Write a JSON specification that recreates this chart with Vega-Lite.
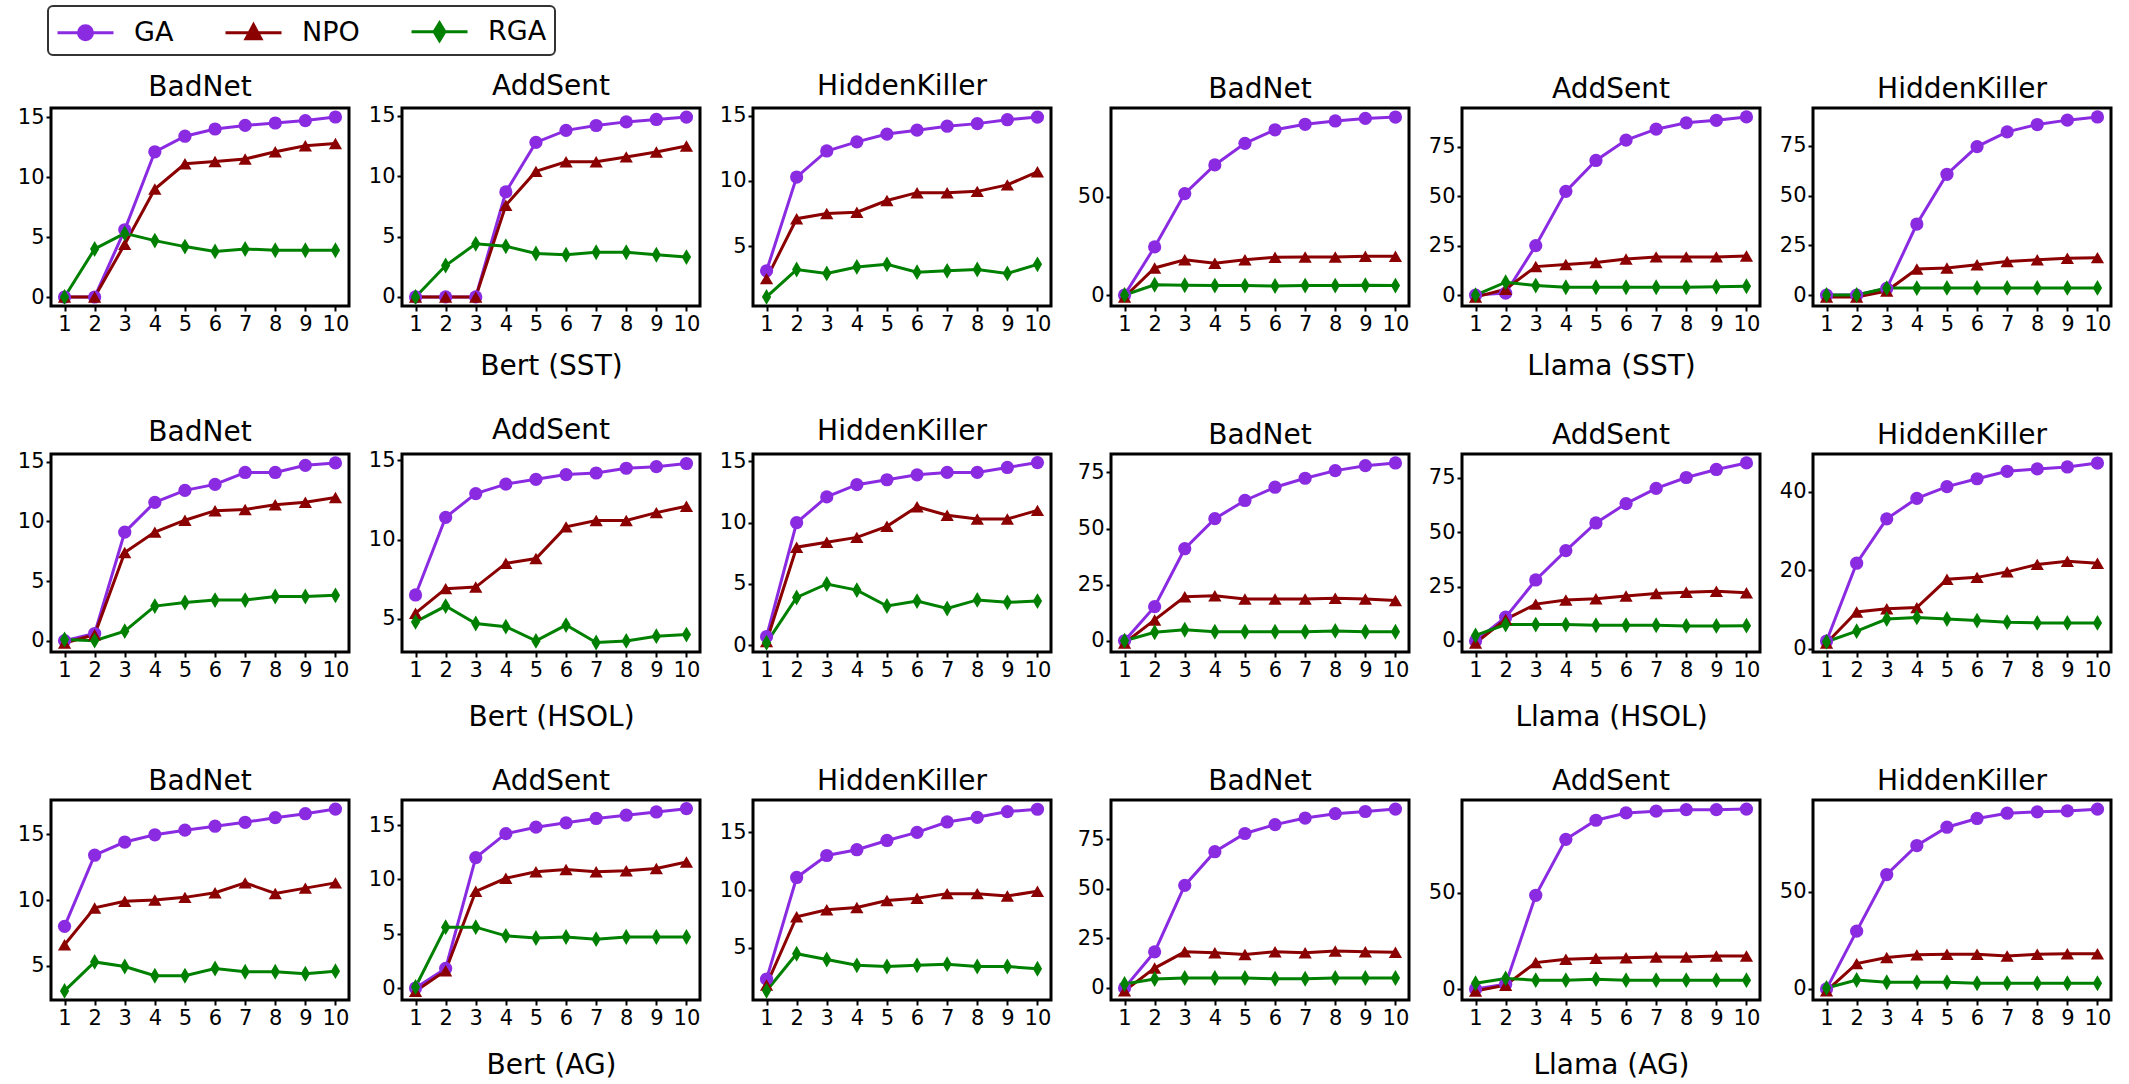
{
  "$schema": "https://vega.github.io/schema/vega-lite/v6.json",
  "padding": {"left": 15, "top": 5, "right": 5, "bottom": 5},
  "background": "white",
  "config": {
    "font": "DejaVu Sans",
    "view": {"stroke": "black", "strokeWidth": 3},
    "axis": {"domain": false, "grid": false, "tickColor": "black", "tickSize": 5, "tickWidth": 2, "labelFontSize": 21, "labelColor": "black", "labelPadding": 2, "labelOverlap": false, "titleFontSize": 28, "titleFontWeight": "normal", "titleColor": "black"},
    "axisY": {"minExtent": 34, "maxExtent": 34},
    "axisX": {"labelAngle": 0},
    "title": {"fontSize": 28, "fontWeight": "normal", "offset": 4, "color": "black"},
    "line": {"strokeWidth": 3},
    "point": {"filled": true, "size": 175, "opacity": 1},
    "range": {"category": ["#8a2be2", "#8b0000", "#008000"], "symbol": ["circle", "triangle-up", "M0,-1.2L0.7,0L0,1.2L-0.7,0Z"]},
    "legend": {"labelFontSize": 27, "labelColor": "black", "symbolSize": 1024, "labelOffset": 43, "columnPadding": 45, "padding": 8, "strokeColor": "#333333", "strokeWidth": 2, "cornerRadius": 5, "fillColor": "white"}
  },
  "datasets": {
    "Bert_SST_BadNet": [
      {"epoch":1,"method":"GA","value":0},{"epoch":2,"method":"GA","value":0},{"epoch":3,"method":"GA","value":5.6},{"epoch":4,"method":"GA","value":12.1},{"epoch":5,"method":"GA","value":13.4},{"epoch":6,"method":"GA","value":14.0},{"epoch":7,"method":"GA","value":14.3},{"epoch":8,"method":"GA","value":14.5},{"epoch":9,"method":"GA","value":14.7},{"epoch":10,"method":"GA","value":15.0},
      {"epoch":1,"method":"NPO","value":0},{"epoch":2,"method":"NPO","value":0},{"epoch":3,"method":"NPO","value":4.4},{"epoch":4,"method":"NPO","value":9.0},{"epoch":5,"method":"NPO","value":11.1},{"epoch":6,"method":"NPO","value":11.3},{"epoch":7,"method":"NPO","value":11.5},{"epoch":8,"method":"NPO","value":12.1},{"epoch":9,"method":"NPO","value":12.6},{"epoch":10,"method":"NPO","value":12.8},
      {"epoch":1,"method":"RGA","value":0},{"epoch":2,"method":"RGA","value":4.0},{"epoch":3,"method":"RGA","value":5.3},{"epoch":4,"method":"RGA","value":4.7},{"epoch":5,"method":"RGA","value":4.2},{"epoch":6,"method":"RGA","value":3.8},{"epoch":7,"method":"RGA","value":4.0},{"epoch":8,"method":"RGA","value":3.9},{"epoch":9,"method":"RGA","value":3.9},{"epoch":10,"method":"RGA","value":3.9}
    ],
    "Bert_SST_AddSent": [
      {"epoch":1,"method":"GA","value":0},{"epoch":2,"method":"GA","value":0},{"epoch":3,"method":"GA","value":0},{"epoch":4,"method":"GA","value":8.7},{"epoch":5,"method":"GA","value":12.8},{"epoch":6,"method":"GA","value":13.8},{"epoch":7,"method":"GA","value":14.2},{"epoch":8,"method":"GA","value":14.5},{"epoch":9,"method":"GA","value":14.7},{"epoch":10,"method":"GA","value":14.9},
      {"epoch":1,"method":"NPO","value":0},{"epoch":2,"method":"NPO","value":0},{"epoch":3,"method":"NPO","value":0},{"epoch":4,"method":"NPO","value":7.6},{"epoch":5,"method":"NPO","value":10.4},{"epoch":6,"method":"NPO","value":11.2},{"epoch":7,"method":"NPO","value":11.2},{"epoch":8,"method":"NPO","value":11.6},{"epoch":9,"method":"NPO","value":12.0},{"epoch":10,"method":"NPO","value":12.5},
      {"epoch":1,"method":"RGA","value":0},{"epoch":2,"method":"RGA","value":2.6},{"epoch":3,"method":"RGA","value":4.4},{"epoch":4,"method":"RGA","value":4.2},{"epoch":5,"method":"RGA","value":3.6},{"epoch":6,"method":"RGA","value":3.5},{"epoch":7,"method":"RGA","value":3.7},{"epoch":8,"method":"RGA","value":3.7},{"epoch":9,"method":"RGA","value":3.5},{"epoch":10,"method":"RGA","value":3.3}
    ],
    "Bert_SST_HiddenKiller": [
      {"epoch":1,"method":"GA","value":3.1},{"epoch":2,"method":"GA","value":10.3},{"epoch":3,"method":"GA","value":12.3},{"epoch":4,"method":"GA","value":13.0},{"epoch":5,"method":"GA","value":13.6},{"epoch":6,"method":"GA","value":13.9},{"epoch":7,"method":"GA","value":14.2},{"epoch":8,"method":"GA","value":14.4},{"epoch":9,"method":"GA","value":14.7},{"epoch":10,"method":"GA","value":14.9},
      {"epoch":1,"method":"NPO","value":2.5},{"epoch":2,"method":"NPO","value":7.1},{"epoch":3,"method":"NPO","value":7.5},{"epoch":4,"method":"NPO","value":7.6},{"epoch":5,"method":"NPO","value":8.5},{"epoch":6,"method":"NPO","value":9.1},{"epoch":7,"method":"NPO","value":9.1},{"epoch":8,"method":"NPO","value":9.2},{"epoch":9,"method":"NPO","value":9.7},{"epoch":10,"method":"NPO","value":10.7},
      {"epoch":1,"method":"RGA","value":1.1},{"epoch":2,"method":"RGA","value":3.2},{"epoch":3,"method":"RGA","value":2.9},{"epoch":4,"method":"RGA","value":3.4},{"epoch":5,"method":"RGA","value":3.6},{"epoch":6,"method":"RGA","value":3.0},{"epoch":7,"method":"RGA","value":3.1},{"epoch":8,"method":"RGA","value":3.2},{"epoch":9,"method":"RGA","value":2.9},{"epoch":10,"method":"RGA","value":3.6}
    ],
    "Llama_SST_BadNet": [
      {"epoch":1,"method":"GA","value":0},{"epoch":2,"method":"GA","value":24.5},{"epoch":3,"method":"GA","value":51.7},{"epoch":4,"method":"GA","value":66.3},{"epoch":5,"method":"GA","value":77.3},{"epoch":6,"method":"GA","value":84.2},{"epoch":7,"method":"GA","value":87.0},{"epoch":8,"method":"GA","value":88.7},{"epoch":9,"method":"GA","value":90.0},{"epoch":10,"method":"GA","value":90.7},
      {"epoch":1,"method":"NPO","value":-1},{"epoch":2,"method":"NPO","value":13.8},{"epoch":3,"method":"NPO","value":18.0},{"epoch":4,"method":"NPO","value":16.2},{"epoch":5,"method":"NPO","value":18.0},{"epoch":6,"method":"NPO","value":19.2},{"epoch":7,"method":"NPO","value":19.4},{"epoch":8,"method":"NPO","value":19.4},{"epoch":9,"method":"NPO","value":19.7},{"epoch":10,"method":"NPO","value":19.7},
      {"epoch":1,"method":"RGA","value":0},{"epoch":2,"method":"RGA","value":5.2},{"epoch":3,"method":"RGA","value":5.0},{"epoch":4,"method":"RGA","value":4.8},{"epoch":5,"method":"RGA","value":4.8},{"epoch":6,"method":"RGA","value":4.6},{"epoch":7,"method":"RGA","value":4.8},{"epoch":8,"method":"RGA","value":4.8},{"epoch":9,"method":"RGA","value":5.0},{"epoch":10,"method":"RGA","value":4.8}
    ],
    "Llama_SST_AddSent": [
      {"epoch":1,"method":"GA","value":0},{"epoch":2,"method":"GA","value":1},{"epoch":3,"method":"GA","value":25},{"epoch":4,"method":"GA","value":52.4},{"epoch":5,"method":"GA","value":68},{"epoch":6,"method":"GA","value":78.3},{"epoch":7,"method":"GA","value":83.8},{"epoch":8,"method":"GA","value":87},{"epoch":9,"method":"GA","value":88.3},{"epoch":10,"method":"GA","value":90},
      {"epoch":1,"method":"NPO","value":-1},{"epoch":2,"method":"NPO","value":3},{"epoch":3,"method":"NPO","value":14.4},{"epoch":4,"method":"NPO","value":15.5},{"epoch":5,"method":"NPO","value":16.5},{"epoch":6,"method":"NPO","value":18.2},{"epoch":7,"method":"NPO","value":19.3},{"epoch":8,"method":"NPO","value":19.3},{"epoch":9,"method":"NPO","value":19.3},{"epoch":10,"method":"NPO","value":19.8},
      {"epoch":1,"method":"RGA","value":0},{"epoch":2,"method":"RGA","value":6.5},{"epoch":3,"method":"RGA","value":4.8},{"epoch":4,"method":"RGA","value":4.0},{"epoch":5,"method":"RGA","value":4.0},{"epoch":6,"method":"RGA","value":4.0},{"epoch":7,"method":"RGA","value":4.0},{"epoch":8,"method":"RGA","value":4.0},{"epoch":9,"method":"RGA","value":4.2},{"epoch":10,"method":"RGA","value":4.5}
    ],
    "Llama_SST_HiddenKiller": [
      {"epoch":1,"method":"GA","value":0},{"epoch":2,"method":"GA","value":0},{"epoch":3,"method":"GA","value":3.3},{"epoch":4,"method":"GA","value":35.7},{"epoch":5,"method":"GA","value":60.7},{"epoch":6,"method":"GA","value":74.6},{"epoch":7,"method":"GA","value":82.0},{"epoch":8,"method":"GA","value":85.7},{"epoch":9,"method":"GA","value":87.9},{"epoch":10,"method":"GA","value":89.5},
      {"epoch":1,"method":"NPO","value":-1},{"epoch":2,"method":"NPO","value":-1},{"epoch":3,"method":"NPO","value":2},{"epoch":4,"method":"NPO","value":13.1},{"epoch":5,"method":"NPO","value":13.6},{"epoch":6,"method":"NPO","value":15.2},{"epoch":7,"method":"NPO","value":16.9},{"epoch":8,"method":"NPO","value":17.7},{"epoch":9,"method":"NPO","value":18.5},{"epoch":10,"method":"NPO","value":18.8},
      {"epoch":1,"method":"RGA","value":0},{"epoch":2,"method":"RGA","value":0},{"epoch":3,"method":"RGA","value":3.5},{"epoch":4,"method":"RGA","value":3.5},{"epoch":5,"method":"RGA","value":3.6},{"epoch":6,"method":"RGA","value":3.6},{"epoch":7,"method":"RGA","value":3.6},{"epoch":8,"method":"RGA","value":3.6},{"epoch":9,"method":"RGA","value":3.6},{"epoch":10,"method":"RGA","value":3.6}
    ],
    "Bert_HSOL_BadNet": [
      {"epoch":1,"method":"GA","value":0},{"epoch":2,"method":"GA","value":0.6},{"epoch":3,"method":"GA","value":9.1},{"epoch":4,"method":"GA","value":11.6},{"epoch":5,"method":"GA","value":12.6},{"epoch":6,"method":"GA","value":13.1},{"epoch":7,"method":"GA","value":14.1},{"epoch":8,"method":"GA","value":14.1},{"epoch":9,"method":"GA","value":14.7},{"epoch":10,"method":"GA","value":14.9},
      {"epoch":1,"method":"NPO","value":-0.2},{"epoch":2,"method":"NPO","value":0.5},{"epoch":3,"method":"NPO","value":7.4},{"epoch":4,"method":"NPO","value":9.1},{"epoch":5,"method":"NPO","value":10.1},{"epoch":6,"method":"NPO","value":10.9},{"epoch":7,"method":"NPO","value":11.0},{"epoch":8,"method":"NPO","value":11.4},{"epoch":9,"method":"NPO","value":11.6},{"epoch":10,"method":"NPO","value":12.0},
      {"epoch":1,"method":"RGA","value":0.1},{"epoch":2,"method":"RGA","value":0},{"epoch":3,"method":"RGA","value":0.8},{"epoch":4,"method":"RGA","value":2.9},{"epoch":5,"method":"RGA","value":3.2},{"epoch":6,"method":"RGA","value":3.4},{"epoch":7,"method":"RGA","value":3.4},{"epoch":8,"method":"RGA","value":3.7},{"epoch":9,"method":"RGA","value":3.7},{"epoch":10,"method":"RGA","value":3.8}
    ],
    "Bert_HSOL_AddSent": [
      {"epoch":1,"method":"GA","value":6.5},{"epoch":2,"method":"GA","value":11.4},{"epoch":3,"method":"GA","value":12.9},{"epoch":4,"method":"GA","value":13.5},{"epoch":5,"method":"GA","value":13.8},{"epoch":6,"method":"GA","value":14.1},{"epoch":7,"method":"GA","value":14.2},{"epoch":8,"method":"GA","value":14.5},{"epoch":9,"method":"GA","value":14.6},{"epoch":10,"method":"GA","value":14.8},
      {"epoch":1,"method":"NPO","value":5.35},{"epoch":2,"method":"NPO","value":6.9},{"epoch":3,"method":"NPO","value":7.0},{"epoch":4,"method":"NPO","value":8.5},{"epoch":5,"method":"NPO","value":8.8},{"epoch":6,"method":"NPO","value":10.8},{"epoch":7,"method":"NPO","value":11.2},{"epoch":8,"method":"NPO","value":11.2},{"epoch":9,"method":"NPO","value":11.7},{"epoch":10,"method":"NPO","value":12.1},
      {"epoch":1,"method":"RGA","value":4.8},{"epoch":2,"method":"RGA","value":5.8},{"epoch":3,"method":"RGA","value":4.7},{"epoch":4,"method":"RGA","value":4.5},{"epoch":5,"method":"RGA","value":3.6},{"epoch":6,"method":"RGA","value":4.6},{"epoch":7,"method":"RGA","value":3.5},{"epoch":8,"method":"RGA","value":3.6},{"epoch":9,"method":"RGA","value":3.9},{"epoch":10,"method":"RGA","value":4.0}
    ],
    "Bert_HSOL_HiddenKiller": [
      {"epoch":1,"method":"GA","value":0.7},{"epoch":2,"method":"GA","value":10.0},{"epoch":3,"method":"GA","value":12.1},{"epoch":4,"method":"GA","value":13.1},{"epoch":5,"method":"GA","value":13.5},{"epoch":6,"method":"GA","value":13.9},{"epoch":7,"method":"GA","value":14.1},{"epoch":8,"method":"GA","value":14.1},{"epoch":9,"method":"GA","value":14.5},{"epoch":10,"method":"GA","value":14.9},
      {"epoch":1,"method":"NPO","value":0.3},{"epoch":2,"method":"NPO","value":8.0},{"epoch":3,"method":"NPO","value":8.4},{"epoch":4,"method":"NPO","value":8.8},{"epoch":5,"method":"NPO","value":9.7},{"epoch":6,"method":"NPO","value":11.3},{"epoch":7,"method":"NPO","value":10.6},{"epoch":8,"method":"NPO","value":10.3},{"epoch":9,"method":"NPO","value":10.3},{"epoch":10,"method":"NPO","value":11.0},
      {"epoch":1,"method":"RGA","value":0.2},{"epoch":2,"method":"RGA","value":3.9},{"epoch":3,"method":"RGA","value":5.0},{"epoch":4,"method":"RGA","value":4.5},{"epoch":5,"method":"RGA","value":3.2},{"epoch":6,"method":"RGA","value":3.6},{"epoch":7,"method":"RGA","value":3.0},{"epoch":8,"method":"RGA","value":3.7},{"epoch":9,"method":"RGA","value":3.5},{"epoch":10,"method":"RGA","value":3.6}
    ],
    "Llama_HSOL_BadNet": [
      {"epoch":1,"method":"GA","value":0},{"epoch":2,"method":"GA","value":15.2},{"epoch":3,"method":"GA","value":41},{"epoch":4,"method":"GA","value":54.4},{"epoch":5,"method":"GA","value":62.5},{"epoch":6,"method":"GA","value":68.4},{"epoch":7,"method":"GA","value":72.4},{"epoch":8,"method":"GA","value":75.8},{"epoch":9,"method":"GA","value":78},{"epoch":10,"method":"GA","value":79.2},
      {"epoch":1,"method":"NPO","value":-1},{"epoch":2,"method":"NPO","value":9.3},{"epoch":3,"method":"NPO","value":19.6},{"epoch":4,"method":"NPO","value":20.1},{"epoch":5,"method":"NPO","value":18.6},{"epoch":6,"method":"NPO","value":18.6},{"epoch":7,"method":"NPO","value":18.6},{"epoch":8,"method":"NPO","value":18.9},{"epoch":9,"method":"NPO","value":18.6},{"epoch":10,"method":"NPO","value":17.9},
      {"epoch":1,"method":"RGA","value":0},{"epoch":2,"method":"RGA","value":3.8},{"epoch":3,"method":"RGA","value":4.9},{"epoch":4,"method":"RGA","value":4.0},{"epoch":5,"method":"RGA","value":4.0},{"epoch":6,"method":"RGA","value":4.0},{"epoch":7,"method":"RGA","value":4.0},{"epoch":8,"method":"RGA","value":4.4},{"epoch":9,"method":"RGA","value":4.0},{"epoch":10,"method":"RGA","value":4.0}
    ],
    "Llama_HSOL_AddSent": [
      {"epoch":1,"method":"GA","value":0},{"epoch":2,"method":"GA","value":10.9},{"epoch":3,"method":"GA","value":28},{"epoch":4,"method":"GA","value":41.5},{"epoch":5,"method":"GA","value":54.2},{"epoch":6,"method":"GA","value":63.1},{"epoch":7,"method":"GA","value":70.1},{"epoch":8,"method":"GA","value":75.1},{"epoch":9,"method":"GA","value":78.8},{"epoch":10,"method":"GA","value":81.8},
      {"epoch":1,"method":"NPO","value":-1},{"epoch":2,"method":"NPO","value":9.9},{"epoch":3,"method":"NPO","value":16.9},{"epoch":4,"method":"NPO","value":18.8},{"epoch":5,"method":"NPO","value":19.4},{"epoch":6,"method":"NPO","value":20.6},{"epoch":7,"method":"NPO","value":21.8},{"epoch":8,"method":"NPO","value":22.4},{"epoch":9,"method":"NPO","value":22.8},{"epoch":10,"method":"NPO","value":22.1},
      {"epoch":1,"method":"RGA","value":2.5},{"epoch":2,"method":"RGA","value":7.5},{"epoch":3,"method":"RGA","value":7.5},{"epoch":4,"method":"RGA","value":7.5},{"epoch":5,"method":"RGA","value":7.2},{"epoch":6,"method":"RGA","value":7.2},{"epoch":7,"method":"RGA","value":7.2},{"epoch":8,"method":"RGA","value":6.9},{"epoch":9,"method":"RGA","value":6.9},{"epoch":10,"method":"RGA","value":7.0}
    ],
    "Llama_HSOL_HiddenKiller": [
      {"epoch":1,"method":"GA","value":2},{"epoch":2,"method":"GA","value":21.8},{"epoch":3,"method":"GA","value":33.1},{"epoch":4,"method":"GA","value":38.3},{"epoch":5,"method":"GA","value":41.3},{"epoch":6,"method":"GA","value":43.3},{"epoch":7,"method":"GA","value":45.2},{"epoch":8,"method":"GA","value":45.8},{"epoch":9,"method":"GA","value":46.3},{"epoch":10,"method":"GA","value":47.3},
      {"epoch":1,"method":"NPO","value":1.5},{"epoch":2,"method":"NPO","value":9.4},{"epoch":3,"method":"NPO","value":10.2},{"epoch":4,"method":"NPO","value":10.5},{"epoch":5,"method":"NPO","value":17.7},{"epoch":6,"method":"NPO","value":18.2},{"epoch":7,"method":"NPO","value":19.6},{"epoch":8,"method":"NPO","value":21.5},{"epoch":9,"method":"NPO","value":22.3},{"epoch":10,"method":"NPO","value":21.8},
      {"epoch":1,"method":"RGA","value":1.8},{"epoch":2,"method":"RGA","value":4.5},{"epoch":3,"method":"RGA","value":7.6},{"epoch":4,"method":"RGA","value":8.0},{"epoch":5,"method":"RGA","value":7.6},{"epoch":6,"method":"RGA","value":7.2},{"epoch":7,"method":"RGA","value":6.8},{"epoch":8,"method":"RGA","value":6.6},{"epoch":9,"method":"RGA","value":6.6},{"epoch":10,"method":"RGA","value":6.6}
    ],
    "Bert_AG_BadNet": [
      {"epoch":1,"method":"GA","value":8.0},{"epoch":2,"method":"GA","value":13.4},{"epoch":3,"method":"GA","value":14.4},{"epoch":4,"method":"GA","value":14.95},{"epoch":5,"method":"GA","value":15.3},{"epoch":6,"method":"GA","value":15.6},{"epoch":7,"method":"GA","value":15.9},{"epoch":8,"method":"GA","value":16.25},{"epoch":9,"method":"GA","value":16.55},{"epoch":10,"method":"GA","value":16.9},
      {"epoch":1,"method":"NPO","value":6.6},{"epoch":2,"method":"NPO","value":9.4},{"epoch":3,"method":"NPO","value":9.9},{"epoch":4,"method":"NPO","value":10.0},{"epoch":5,"method":"NPO","value":10.2},{"epoch":6,"method":"NPO","value":10.55},{"epoch":7,"method":"NPO","value":11.3},{"epoch":8,"method":"NPO","value":10.5},{"epoch":9,"method":"NPO","value":10.9},{"epoch":10,"method":"NPO","value":11.3},
      {"epoch":1,"method":"RGA","value":3.1},{"epoch":2,"method":"RGA","value":5.3},{"epoch":3,"method":"RGA","value":4.95},{"epoch":4,"method":"RGA","value":4.25},{"epoch":5,"method":"RGA","value":4.25},{"epoch":6,"method":"RGA","value":4.8},{"epoch":7,"method":"RGA","value":4.55},{"epoch":8,"method":"RGA","value":4.55},{"epoch":9,"method":"RGA","value":4.4},{"epoch":10,"method":"RGA","value":4.6}
    ],
    "Bert_AG_AddSent": [
      {"epoch":1,"method":"GA","value":0},{"epoch":2,"method":"GA","value":1.8},{"epoch":3,"method":"GA","value":12.0},{"epoch":4,"method":"GA","value":14.2},{"epoch":5,"method":"GA","value":14.8},{"epoch":6,"method":"GA","value":15.2},{"epoch":7,"method":"GA","value":15.6},{"epoch":8,"method":"GA","value":15.9},{"epoch":9,"method":"GA","value":16.2},{"epoch":10,"method":"GA","value":16.5},
      {"epoch":1,"method":"NPO","value":-0.3},{"epoch":2,"method":"NPO","value":1.6},{"epoch":3,"method":"NPO","value":8.9},{"epoch":4,"method":"NPO","value":10.1},{"epoch":5,"method":"NPO","value":10.7},{"epoch":6,"method":"NPO","value":10.9},{"epoch":7,"method":"NPO","value":10.7},{"epoch":8,"method":"NPO","value":10.8},{"epoch":9,"method":"NPO","value":11.0},{"epoch":10,"method":"NPO","value":11.6},
      {"epoch":1,"method":"RGA","value":0.1},{"epoch":2,"method":"RGA","value":5.6},{"epoch":3,"method":"RGA","value":5.6},{"epoch":4,"method":"RGA","value":4.8},{"epoch":5,"method":"RGA","value":4.6},{"epoch":6,"method":"RGA","value":4.7},{"epoch":7,"method":"RGA","value":4.5},{"epoch":8,"method":"RGA","value":4.7},{"epoch":9,"method":"RGA","value":4.7},{"epoch":10,"method":"RGA","value":4.7}
    ],
    "Bert_AG_HiddenKiller": [
      {"epoch":1,"method":"GA","value":2.3},{"epoch":2,"method":"GA","value":11.1},{"epoch":3,"method":"GA","value":13.0},{"epoch":4,"method":"GA","value":13.5},{"epoch":5,"method":"GA","value":14.3},{"epoch":6,"method":"GA","value":15.0},{"epoch":7,"method":"GA","value":15.9},{"epoch":8,"method":"GA","value":16.3},{"epoch":9,"method":"GA","value":16.8},{"epoch":10,"method":"GA","value":17.0},
      {"epoch":1,"method":"NPO","value":1.8},{"epoch":2,"method":"NPO","value":7.7},{"epoch":3,"method":"NPO","value":8.3},{"epoch":4,"method":"NPO","value":8.5},{"epoch":5,"method":"NPO","value":9.1},{"epoch":6,"method":"NPO","value":9.3},{"epoch":7,"method":"NPO","value":9.7},{"epoch":8,"method":"NPO","value":9.7},{"epoch":9,"method":"NPO","value":9.5},{"epoch":10,"method":"NPO","value":9.9},
      {"epoch":1,"method":"RGA","value":1.3},{"epoch":2,"method":"RGA","value":4.5},{"epoch":3,"method":"RGA","value":4.0},{"epoch":4,"method":"RGA","value":3.5},{"epoch":5,"method":"RGA","value":3.4},{"epoch":6,"method":"RGA","value":3.5},{"epoch":7,"method":"RGA","value":3.6},{"epoch":8,"method":"RGA","value":3.4},{"epoch":9,"method":"RGA","value":3.4},{"epoch":10,"method":"RGA","value":3.2}
    ],
    "Llama_AG_BadNet": [
      {"epoch":1,"method":"GA","value":0},{"epoch":2,"method":"GA","value":18.2},{"epoch":3,"method":"GA","value":51.7},{"epoch":4,"method":"GA","value":68.7},{"epoch":5,"method":"GA","value":77.9},{"epoch":6,"method":"GA","value":82.4},{"epoch":7,"method":"GA","value":85.7},{"epoch":8,"method":"GA","value":87.9},{"epoch":9,"method":"GA","value":89.0},{"epoch":10,"method":"GA","value":90.2},
      {"epoch":1,"method":"NPO","value":-1.5},{"epoch":2,"method":"NPO","value":10},{"epoch":3,"method":"NPO","value":18.2},{"epoch":4,"method":"NPO","value":17.7},{"epoch":5,"method":"NPO","value":16.9},{"epoch":6,"method":"NPO","value":18.2},{"epoch":7,"method":"NPO","value":17.7},{"epoch":8,"method":"NPO","value":18.6},{"epoch":9,"method":"NPO","value":18.2},{"epoch":10,"method":"NPO","value":18.0},
      {"epoch":1,"method":"RGA","value":2},{"epoch":2,"method":"RGA","value":4.5},{"epoch":3,"method":"RGA","value":5},{"epoch":4,"method":"RGA","value":5},{"epoch":5,"method":"RGA","value":5},{"epoch":6,"method":"RGA","value":4.6},{"epoch":7,"method":"RGA","value":4.6},{"epoch":8,"method":"RGA","value":5},{"epoch":9,"method":"RGA","value":5},{"epoch":10,"method":"RGA","value":5}
    ],
    "Llama_AG_AddSent": [
      {"epoch":1,"method":"GA","value":0},{"epoch":2,"method":"GA","value":2.5},{"epoch":3,"method":"GA","value":48.6},{"epoch":4,"method":"GA","value":77.6},{"epoch":5,"method":"GA","value":87.5},{"epoch":6,"method":"GA","value":91.3},{"epoch":7,"method":"GA","value":92.2},{"epoch":8,"method":"GA","value":93},{"epoch":9,"method":"GA","value":93},{"epoch":10,"method":"GA","value":93.3},
      {"epoch":1,"method":"NPO","value":-1},{"epoch":2,"method":"NPO","value":2},{"epoch":3,"method":"NPO","value":13.7},{"epoch":4,"method":"NPO","value":15.4},{"epoch":5,"method":"NPO","value":15.9},{"epoch":6,"method":"NPO","value":16.2},{"epoch":7,"method":"NPO","value":16.6},{"epoch":8,"method":"NPO","value":16.6},{"epoch":9,"method":"NPO","value":17.1},{"epoch":10,"method":"NPO","value":17.1},
      {"epoch":1,"method":"RGA","value":3},{"epoch":2,"method":"RGA","value":5.5},{"epoch":3,"method":"RGA","value":4.6},{"epoch":4,"method":"RGA","value":4.6},{"epoch":5,"method":"RGA","value":5.1},{"epoch":6,"method":"RGA","value":4.6},{"epoch":7,"method":"RGA","value":4.6},{"epoch":8,"method":"RGA","value":4.6},{"epoch":9,"method":"RGA","value":4.6},{"epoch":10,"method":"RGA","value":4.6}
    ],
    "Llama_AG_HiddenKiller": [
      {"epoch":1,"method":"GA","value":0},{"epoch":2,"method":"GA","value":29.7},{"epoch":3,"method":"GA","value":58.8},{"epoch":4,"method":"GA","value":73.7},{"epoch":5,"method":"GA","value":83.1},{"epoch":6,"method":"GA","value":87.6},{"epoch":7,"method":"GA","value":90.3},{"epoch":8,"method":"GA","value":91.0},{"epoch":9,"method":"GA","value":91.5},{"epoch":10,"method":"GA","value":92.4},
      {"epoch":1,"method":"NPO","value":-1},{"epoch":2,"method":"NPO","value":13},{"epoch":3,"method":"NPO","value":16.1},{"epoch":4,"method":"NPO","value":17.5},{"epoch":5,"method":"NPO","value":17.8},{"epoch":6,"method":"NPO","value":17.8},{"epoch":7,"method":"NPO","value":16.9},{"epoch":8,"method":"NPO","value":17.8},{"epoch":9,"method":"NPO","value":18.1},{"epoch":10,"method":"NPO","value":18.1},
      {"epoch":1,"method":"RGA","value":0.5},{"epoch":2,"method":"RGA","value":4.6},{"epoch":3,"method":"RGA","value":3.4},{"epoch":4,"method":"RGA","value":3.4},{"epoch":5,"method":"RGA","value":3.4},{"epoch":6,"method":"RGA","value":2.9},{"epoch":7,"method":"RGA","value":2.9},{"epoch":8,"method":"RGA","value":2.9},{"epoch":9,"method":"RGA","value":2.9},{"epoch":10,"method":"RGA","value":2.9}
    ]
  },
  "spacing": 33,
  "vconcat": [
    {"spacing": 22, "hconcat": [
      {"spacing": 15, "hconcat": [
        {"data": {"name": "Bert_SST_BadNet"}, "title": "BadNet", "width": 298, "height": 198,
         "encoding": {"x": {"field": "epoch", "type": "quantitative", "scale": {"domain": [0.55, 10.45], "nice": false}, "axis": {"values": [1,2,3,4,5,6,7,8,9,10], "title": null}},
                      "y": {"field": "value", "type": "quantitative", "scale": {"domain": [-0.75, 15.75], "nice": false, "zero": false}, "axis": {"values": [0,5,10,15], "title": null}},
                      "color": {"field": "method", "type": "nominal", "legend": {"title": null, "orient": "none", "legendX": -3, "legendY": -102, "direction": "horizontal",
                        "encode": {"symbols": {"update": {"shape": {"signal": "datum.value === 'GA' ? 'M-1,0H2.5M1.1875,0A0.4375,0.4375,0,1,1,0.3125,0A0.4375,0.4375,0,1,1,1.1875,0Z' : datum.value === 'NPO' ? 'M-1,0H2.5M0.75,-0.5L1.22,0.38L0.28,0.38Z' : 'M-1,0H2.5M0.75,-0.56L1.09,0L0.75,0.56L0.41,0Z'"}, "fill": {"scale": "color", "field": "value"}, "stroke": {"scale": "color", "field": "value"}, "strokeWidth": {"value": 3}, "opacity": {"value": 1}, "size": {"value": 1024}}}}}}},
         "layer": [{"mark": "line"}, {"mark": "point", "encoding": {"shape": {"field": "method", "type": "nominal", "legend": null}}}]},
        {"data": {"name": "Bert_SST_AddSent"}, "title": "AddSent", "width": 298, "height": 198,
         "encoding": {"x": {"field": "epoch", "type": "quantitative", "scale": {"domain": [0.55, 10.45], "nice": false}, "axis": {"values": [1,2,3,4,5,6,7,8,9,10], "title": "Bert (SST)", "titlePadding": 18}},
                      "y": {"field": "value", "type": "quantitative", "scale": {"domain": [-0.75, 15.65], "nice": false, "zero": false}, "axis": {"values": [0,5,10,15], "title": null}},
                      "color": {"field": "method", "type": "nominal", "legend": null}},
         "layer": [{"mark": "line"}, {"mark": "point", "encoding": {"shape": {"field": "method", "type": "nominal", "legend": null}}}]},
        {"data": {"name": "Bert_SST_HiddenKiller"}, "title": "HiddenKiller", "width": 298, "height": 198,
         "encoding": {"x": {"field": "epoch", "type": "quantitative", "scale": {"domain": [0.55, 10.45], "nice": false}, "axis": {"values": [1,2,3,4,5,6,7,8,9,10], "title": null}},
                      "y": {"field": "value", "type": "quantitative", "scale": {"domain": [0.4, 15.6], "nice": false, "zero": false}, "axis": {"values": [5,10,15], "title": null}},
                      "color": {"field": "method", "type": "nominal", "legend": null}},
         "layer": [{"mark": "line"}, {"mark": "point", "encoding": {"shape": {"field": "method", "type": "nominal", "legend": null}}}]}
      ]},
      {"spacing": 15, "hconcat": [
        {"data": {"name": "Llama_SST_BadNet"}, "title": "BadNet", "width": 298, "height": 198,
         "encoding": {"x": {"field": "epoch", "type": "quantitative", "scale": {"domain": [0.55, 10.45], "nice": false}, "axis": {"values": [1,2,3,4,5,6,7,8,9,10], "title": null}},
                      "y": {"field": "value", "type": "quantitative", "scale": {"domain": [-5.6, 95.3], "nice": false, "zero": false}, "axis": {"values": [0,50], "title": null}},
                      "color": {"field": "method", "type": "nominal", "legend": null}},
         "layer": [{"mark": "line"}, {"mark": "point", "encoding": {"shape": {"field": "method", "type": "nominal", "legend": null}}}]},
        {"data": {"name": "Llama_SST_AddSent"}, "title": "AddSent", "width": 298, "height": 198,
         "encoding": {"x": {"field": "epoch", "type": "quantitative", "scale": {"domain": [0.55, 10.45], "nice": false}, "axis": {"values": [1,2,3,4,5,6,7,8,9,10], "title": "Llama (SST)", "titlePadding": 18}},
                      "y": {"field": "value", "type": "quantitative", "scale": {"domain": [-5.5, 94.5], "nice": false, "zero": false}, "axis": {"values": [0,25,50,75], "title": null}},
                      "color": {"field": "method", "type": "nominal", "legend": null}},
         "layer": [{"mark": "line"}, {"mark": "point", "encoding": {"shape": {"field": "method", "type": "nominal", "legend": null}}}]},
        {"data": {"name": "Llama_SST_HiddenKiller"}, "title": "HiddenKiller", "width": 298, "height": 198,
         "encoding": {"x": {"field": "epoch", "type": "quantitative", "scale": {"domain": [0.55, 10.45], "nice": false}, "axis": {"values": [1,2,3,4,5,6,7,8,9,10], "title": null}},
                      "y": {"field": "value", "type": "quantitative", "scale": {"domain": [-5.5, 94], "nice": false, "zero": false}, "axis": {"values": [0,25,50,75], "title": null}},
                      "color": {"field": "method", "type": "nominal", "legend": null}},
         "layer": [{"mark": "line"}, {"mark": "point", "encoding": {"shape": {"field": "method", "type": "nominal", "legend": null}}}]}
      ]}
    ]},
    {"spacing": 22, "hconcat": [
      {"spacing": 15, "hconcat": [
        {"data": {"name": "Bert_HSOL_BadNet"}, "title": "BadNet", "width": 298, "height": 198,
         "encoding": {"x": {"field": "epoch", "type": "quantitative", "scale": {"domain": [0.55, 10.45], "nice": false}, "axis": {"values": [1,2,3,4,5,6,7,8,9,10], "title": null}},
                      "y": {"field": "value", "type": "quantitative", "scale": {"domain": [-0.95, 15.65], "nice": false, "zero": false}, "axis": {"values": [0,5,10,15], "title": null}},
                      "color": {"field": "method", "type": "nominal", "legend": null}},
         "layer": [{"mark": "line"}, {"mark": "point", "encoding": {"shape": {"field": "method", "type": "nominal", "legend": null}}}]},
        {"data": {"name": "Bert_HSOL_AddSent"}, "title": "AddSent", "width": 298, "height": 198,
         "encoding": {"x": {"field": "epoch", "type": "quantitative", "scale": {"domain": [0.55, 10.45], "nice": false}, "axis": {"values": [1,2,3,4,5,6,7,8,9,10], "title": "Bert (HSOL)", "titlePadding": 23}},
                      "y": {"field": "value", "type": "quantitative", "scale": {"domain": [2.9, 15.4], "nice": false, "zero": false}, "axis": {"values": [5,10,15], "title": null}},
                      "color": {"field": "method", "type": "nominal", "legend": null}},
         "layer": [{"mark": "line"}, {"mark": "point", "encoding": {"shape": {"field": "method", "type": "nominal", "legend": null}}}]},
        {"data": {"name": "Bert_HSOL_HiddenKiller"}, "title": "HiddenKiller", "width": 298, "height": 198,
         "encoding": {"x": {"field": "epoch", "type": "quantitative", "scale": {"domain": [0.55, 10.45], "nice": false}, "axis": {"values": [1,2,3,4,5,6,7,8,9,10], "title": null}},
                      "y": {"field": "value", "type": "quantitative", "scale": {"domain": [-0.55, 15.6], "nice": false, "zero": false}, "axis": {"values": [0,5,10,15], "title": null}},
                      "color": {"field": "method", "type": "nominal", "legend": null}},
         "layer": [{"mark": "line"}, {"mark": "point", "encoding": {"shape": {"field": "method", "type": "nominal", "legend": null}}}]}
      ]},
      {"spacing": 15, "hconcat": [
        {"data": {"name": "Llama_HSOL_BadNet"}, "title": "BadNet", "width": 298, "height": 198,
         "encoding": {"x": {"field": "epoch", "type": "quantitative", "scale": {"domain": [0.55, 10.45], "nice": false}, "axis": {"values": [1,2,3,4,5,6,7,8,9,10], "title": null}},
                      "y": {"field": "value", "type": "quantitative", "scale": {"domain": [-5, 83.2], "nice": false, "zero": false}, "axis": {"values": [0,25,50,75], "title": null}},
                      "color": {"field": "method", "type": "nominal", "legend": null}},
         "layer": [{"mark": "line"}, {"mark": "point", "encoding": {"shape": {"field": "method", "type": "nominal", "legend": null}}}]},
        {"data": {"name": "Llama_HSOL_AddSent"}, "title": "AddSent", "width": 298, "height": 198,
         "encoding": {"x": {"field": "epoch", "type": "quantitative", "scale": {"domain": [0.55, 10.45], "nice": false}, "axis": {"values": [1,2,3,4,5,6,7,8,9,10], "title": "Llama (HSOL)", "titlePadding": 23}},
                      "y": {"field": "value", "type": "quantitative", "scale": {"domain": [-5.1, 85.9], "nice": false, "zero": false}, "axis": {"values": [0,25,50,75], "title": null}},
                      "color": {"field": "method", "type": "nominal", "legend": null}},
         "layer": [{"mark": "line"}, {"mark": "point", "encoding": {"shape": {"field": "method", "type": "nominal", "legend": null}}}]},
        {"data": {"name": "Llama_HSOL_HiddenKiller"}, "title": "HiddenKiller", "width": 298, "height": 198,
         "encoding": {"x": {"field": "epoch", "type": "quantitative", "scale": {"domain": [0.55, 10.45], "nice": false}, "axis": {"values": [1,2,3,4,5,6,7,8,9,10], "title": null}},
                      "y": {"field": "value", "type": "quantitative", "scale": {"domain": [-0.8, 49.6], "nice": false, "zero": false}, "axis": {"values": [0,20,40], "title": null}},
                      "color": {"field": "method", "type": "nominal", "legend": null}},
         "layer": [{"mark": "line"}, {"mark": "point", "encoding": {"shape": {"field": "method", "type": "nominal", "legend": null}}}]}
      ]}
    ]},
    {"spacing": 22, "hconcat": [
      {"spacing": 15, "hconcat": [
        {"data": {"name": "Bert_AG_BadNet"}, "title": "BadNet", "width": 298, "height": 200,
         "encoding": {"x": {"field": "epoch", "type": "quantitative", "scale": {"domain": [0.55, 10.45], "nice": false}, "axis": {"values": [1,2,3,4,5,6,7,8,9,10], "title": null}},
                      "y": {"field": "value", "type": "quantitative", "scale": {"domain": [2.41, 17.59], "nice": false, "zero": false}, "axis": {"values": [5,10,15], "title": null}},
                      "color": {"field": "method", "type": "nominal", "legend": null}},
         "layer": [{"mark": "line"}, {"mark": "point", "encoding": {"shape": {"field": "method", "type": "nominal", "legend": null}}}]},
        {"data": {"name": "Bert_AG_AddSent"}, "title": "AddSent", "width": 298, "height": 200,
         "encoding": {"x": {"field": "epoch", "type": "quantitative", "scale": {"domain": [0.55, 10.45], "nice": false}, "axis": {"values": [1,2,3,4,5,6,7,8,9,10], "title": "Bert (AG)", "titlePadding": 23}},
                      "y": {"field": "value", "type": "quantitative", "scale": {"domain": [-1.1, 17.3], "nice": false, "zero": false}, "axis": {"values": [0,5,10,15], "title": null}},
                      "color": {"field": "method", "type": "nominal", "legend": null}},
         "layer": [{"mark": "line"}, {"mark": "point", "encoding": {"shape": {"field": "method", "type": "nominal", "legend": null}}}]},
        {"data": {"name": "Bert_AG_HiddenKiller"}, "title": "HiddenKiller", "width": 298, "height": 200,
         "encoding": {"x": {"field": "epoch", "type": "quantitative", "scale": {"domain": [0.55, 10.45], "nice": false}, "axis": {"values": [1,2,3,4,5,6,7,8,9,10], "title": null}},
                      "y": {"field": "value", "type": "quantitative", "scale": {"domain": [0.5, 17.8], "nice": false, "zero": false}, "axis": {"values": [5,10,15], "title": null}},
                      "color": {"field": "method", "type": "nominal", "legend": null}},
         "layer": [{"mark": "line"}, {"mark": "point", "encoding": {"shape": {"field": "method", "type": "nominal", "legend": null}}}]}
      ]},
      {"spacing": 15, "hconcat": [
        {"data": {"name": "Llama_AG_BadNet"}, "title": "BadNet", "width": 298, "height": 200,
         "encoding": {"x": {"field": "epoch", "type": "quantitative", "scale": {"domain": [0.55, 10.45], "nice": false}, "axis": {"values": [1,2,3,4,5,6,7,8,9,10], "title": null}},
                      "y": {"field": "value", "type": "quantitative", "scale": {"domain": [-6.1, 94.8], "nice": false, "zero": false}, "axis": {"values": [0,25,50,75], "title": null}},
                      "color": {"field": "method", "type": "nominal", "legend": null}},
         "layer": [{"mark": "line"}, {"mark": "point", "encoding": {"shape": {"field": "method", "type": "nominal", "legend": null}}}]},
        {"data": {"name": "Llama_AG_AddSent"}, "title": "AddSent", "width": 298, "height": 200,
         "encoding": {"x": {"field": "epoch", "type": "quantitative", "scale": {"domain": [0.55, 10.45], "nice": false}, "axis": {"values": [1,2,3,4,5,6,7,8,9,10], "title": "Llama (AG)", "titlePadding": 23}},
                      "y": {"field": "value", "type": "quantitative", "scale": {"domain": [-5.7, 98], "nice": false, "zero": false}, "axis": {"values": [0,50], "title": null}},
                      "color": {"field": "method", "type": "nominal", "legend": null}},
         "layer": [{"mark": "line"}, {"mark": "point", "encoding": {"shape": {"field": "method", "type": "nominal", "legend": null}}}]},
        {"data": {"name": "Llama_AG_HiddenKiller"}, "title": "HiddenKiller", "width": 298, "height": 200,
         "encoding": {"x": {"field": "epoch", "type": "quantitative", "scale": {"domain": [0.55, 10.45], "nice": false}, "axis": {"values": [1,2,3,4,5,6,7,8,9,10], "title": null}},
                      "y": {"field": "value", "type": "quantitative", "scale": {"domain": [-5.7, 97.1], "nice": false, "zero": false}, "axis": {"values": [0,50], "title": null}},
                      "color": {"field": "method", "type": "nominal", "legend": null}},
         "layer": [{"mark": "line"}, {"mark": "point", "encoding": {"shape": {"field": "method", "type": "nominal", "legend": null}}}]}
      ]}
    ]}
  ]
}
